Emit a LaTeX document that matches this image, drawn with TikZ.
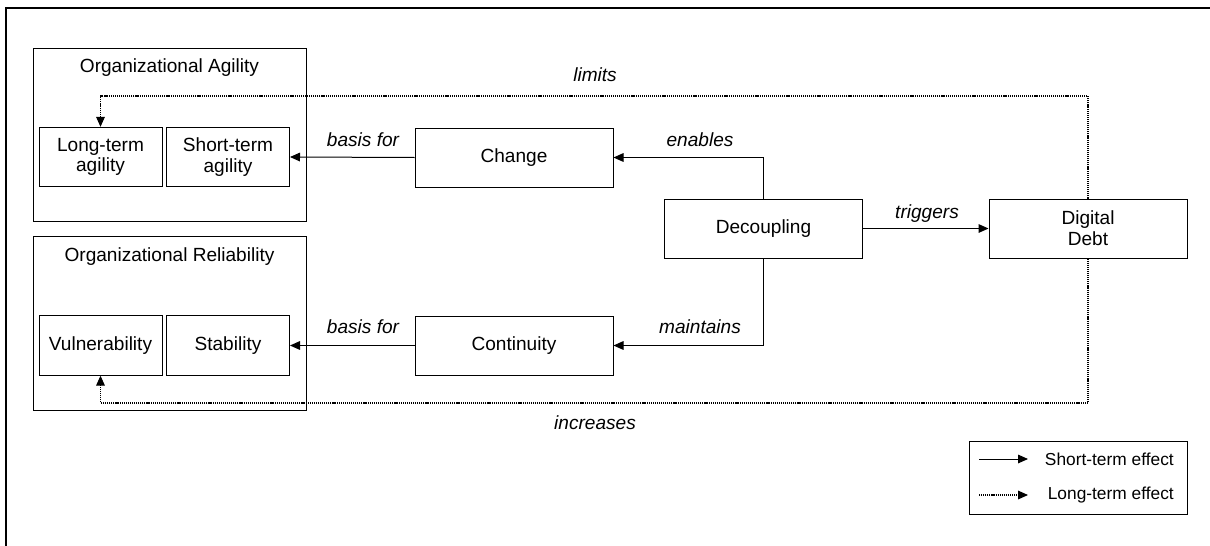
\documentclass[tikz,border=0pt]{standalone}
\usepackage{fontspec}
\setmainfont{Liberation Sans}
\usetikzlibrary{arrows.meta}
\begin{document}
\begin{tikzpicture}[x=0.75pt,y=-0.75pt,
  txt/.style={font=\fontsize{14.3}{15.5}\selectfont, align=center, inner sep=0pt},
  lbl/.style={font=\fontsize{14.3}{15.5}\selectfont\itshape, inner sep=0pt},
  smallbox/.style={txt, draw, line width=0.75pt, minimum width=92.25pt, minimum height=44.5pt},
  bigbox/.style={txt, draw, line width=0.75pt, minimum width=148.5pt, minimum height=44.25pt},
  group/.style={draw, line width=0.75pt, minimum width=204.75pt, inner sep=0pt},
  arr/.style={line width=0.75pt, -{Triangle[length=7.5pt,width=6.5pt]}},
  dotarr/.style={line width=0.85pt, dash pattern=on 0.85pt off 0.7pt, -{Triangle[length=7.5pt,width=6.5pt]}},
  legtxt/.style={font=\fontsize{13}{14}\selectfont, inner sep=0pt, anchor=east}
]
\useasboundingbox (0,0) rectangle (1210,546);
% outer frame
\draw[line width=1.5pt] (6,546) -- (6,8) -- (1210,8);

% groups
\node[group, minimum height=129.75pt] (agil) at (169.5,134.5) {};
\node[txt] (agiltitle) at (169.5,68) {Organizational Agility};
\node[group, minimum height=130.5pt] (rel) at (169.5,323) {};
\node[txt] (reltitle) at (169.5,257) {Organizational Reliability};

\node[smallbox] (lta) at (100.5,157) {Long-term\\agility};
\node[smallbox] (sta) at (228,157) {Short-term\\agility};
\node[smallbox] (vul) at (100.5,345.5) {Vulnerability};
\node[smallbox] (stab) at (228,345.5) {Stability};

\node[bigbox] (change) at (514,157.5) {Change};
\node[bigbox] (cont) at (514,345.5) {Continuity};
\node[bigbox] (dec) at (763.5,228.5) {Decoupling};
\node[bigbox] (dd) at (1088,228.5) {Digital\\Debt};

% solid connectors
\draw[arr] (change.west) -- (sta.east);
\draw[arr] (cont.west) -- (stab.east);
\draw[arr] (dec.north) |- (change.east);
\draw[arr] (dec.south) |- (cont.east);
\draw[arr] (dec.east) -- (dd.west);

% dotted connectors
\coordinate (limc) at (1088,96);
\coordinate (incc) at (1088,403);
\draw[dotarr] (dd.north) -- (limc) -| (lta.north);
\draw[dotarr] (dd.south) -- (incc) -| (vul.south);

% labels
\node[lbl] (l1) at (363,140) {basis for};
\node[lbl] (l2) at (363,327) {basis for};
\node[lbl] (l3) at (700,140) {enables};
\node[lbl] (l4) at (700,327) {maintains};
\node[lbl] (l5) at (927,214) {triggers};
\node[lbl] (l6) at (595,75) {limits};
\node[lbl] (l7) at (595,423) {increases};

% legend
\node[draw, line width=0.75pt, minimum width=163.5pt, minimum height=54.75pt, inner sep=0pt] (leg) at (1078,477.5) {};
\coordinate (s1) at (979,459);
\coordinate (s2) at (1028,459);
\coordinate (d1) at (979,495);
\coordinate (d2) at (1028,495);
\draw[arr] (s1) -- (s2);
\draw[dotarr] (d1) -- (d2);
\node[legtxt] (st) at (1174,459) {Short-term effect};
\node[legtxt] (lt) at (1174,495) {Long-term effect};
\end{tikzpicture}
\end{document}
